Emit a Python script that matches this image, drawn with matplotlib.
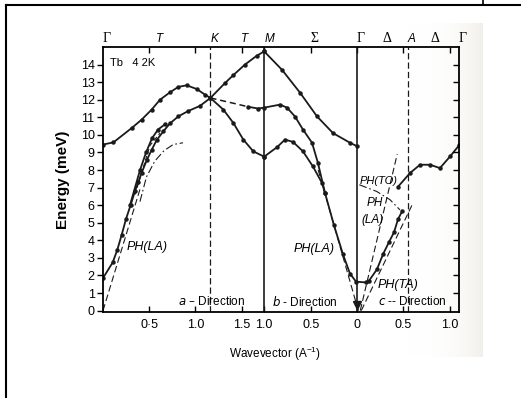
import numpy as np
import matplotlib
matplotlib.use("Agg")
import matplotlib.pyplot as plt
from matplotlib.lines import Line2D

plt.rcParams['font.family'] = ['Liberation Sans', 'DejaVu Sans']

W, H = 521, 398

# path coordinate of the symmetry points (A^-1), Tb hcp: G-K-M | M-G | G-A-G
G0, K, M, G1, A, G2 = 0.0, 1.163, 1.745, 2.752, 3.303, 3.854

# acoustic branch, a-direction G->K then K->M (upper)
ac_q = [0.0, 0.105, 0.155, 0.202, 0.249, 0.300, 0.346, 0.382, 0.419, 0.473, 0.527,
        0.581, 0.653, 0.725, 0.815, 0.920, 1.050, 1.163, 1.321, 1.411, 1.537, 1.664, 1.745]
ac_E = [1.85, 2.74, 3.46, 4.31, 5.21, 6.02, 6.8, 7.3, 7.85, 8.55, 9.15,
        9.7, 10.2, 10.65, 11.05, 11.35, 11.65, 12.1, 12.95, 13.4, 14.0, 14.5, 14.75]
# second branch in the bundle near 7-10.6 meV
bu_q = [0.292, 0.401, 0.466, 0.530, 0.595, 0.671]
bu_E = [6.0, 8.0, 9.0, 9.8, 10.3, 10.6]
bud_q = [0.346, 0.509, 0.617]
bud_E = [6.6, 9.4, 10.1]
# optical branch, G->K->M
op_q = [0.0, 0.112, 0.311, 0.419, 0.527, 0.617, 0.725, 0.815, 0.906, 1.014, 1.104,
        1.163, 1.302, 1.411, 1.519, 1.627, 1.745]
op_E = [9.45, 9.57, 10.39, 10.87, 11.44, 12.0, 12.42, 12.73, 12.82, 12.61, 12.29,
        12.1, 11.44, 10.68, 9.73, 9.06, 8.76]
# middle branch K->M (dashed part, then measured)
mdd_q = [1.163, 1.411, 1.570]
mdd_E = [12.1, 11.8, 11.6]
md_q = [1.570, 1.678, 1.745, 1.916, 1.992, 2.079, 2.165, 2.263, 2.327, 2.403]
md_E = [11.6, 11.5, 11.55, 11.72, 11.55, 11.04, 10.3, 9.55, 8.4, 6.7]
# b-direction lower branch down to Gamma
lo_q = [1.745, 1.884, 1.970, 2.057, 2.165, 2.273, 2.371, 2.403, 2.501, 2.598, 2.674, 2.739, 2.847]
lo_E = [8.76, 9.3, 9.73, 9.6, 9.06, 8.2, 7.26, 6.7, 4.85, 3.2, 2.1, 1.65, 1.6]
# b-direction upper branch M->G
up_q = [1.745, 1.938, 2.133, 2.317, 2.490, 2.674, 2.752]
up_E = [14.75, 13.7, 12.4, 11.05, 10.1, 9.55, 9.35]
# c-direction
ct_q = [2.880, 2.966, 3.031, 3.096, 3.150, 3.194, 3.237]
ct_E = [1.7, 2.35, 3.2, 3.9, 4.45, 5.2, 5.64]
co_q = [3.194, 3.324, 3.432, 3.540, 3.648, 3.757, 3.854]
co_E = [7.05, 7.83, 8.3, 8.3, 8.11, 8.77, 9.4]
# phonon lines
pla_q = [0.0, 0.40]
pla_E = [0.0, 6.9]
plac_q = [0.40, 0.47, 0.56, 0.66, 0.76, 0.866]
plac_E = [6.2, 7.6, 8.5, 9.1, 9.45, 9.55]
plb_q = [2.764, 2.33]
plb_E = [0.0, 8.0]
pto_q = [2.775, 2.963, 3.107, 3.215]
pto_E = [7.16, 6.78, 6.31, 5.73]
plc_q = [2.785, 3.185]
plc_E = [0.0, 8.9]
ptc_q = [2.796, 3.345]
ptc_E = [0.0, 6.0]

xtick_q = [0.5, 1.0, 1.5, 1.745, 2.252, 2.752, 3.252, 3.752]
xtick_lbl = ["0·5", "1.0", "1.5", "1.0", "0.5", "0", "0.5", "1.0"]
top_lbl = ["Γ", "T", "K", "T", "M", "Σ", "Γ", "Δ", "A", "Δ", "Γ"]

fig = plt.figure(figsize=(W / 100, H / 100), dpi=100)

# paper tone of the scan at the right edge
bg = fig.add_axes([380 / W, 1 - 357 / H, 103 / W, 334 / H], zorder=0)
grad = np.zeros((1, 200, 4))
grad[..., 0:3] = [0.91, 0.90, 0.86]
grad[..., 3] = np.linspace(0, 1, 200) ** 4 * 0.6
bg.imshow(grad, aspect='auto', extent=[0, 1, 0, 1])
bg.axis('off')

ax = fig.add_axes([103 / W, 1 - 312 / H, 356 / W, 265 / H], zorder=1)
ax.patch.set_alpha(0)
ax.set_xlim(G0, G2)
ax.set_ylim(-0.08, 15.0)
ink = '#1a1a1a'

# vertical symmetry lines
ax.axvline(K, color=ink, lw=0.9, dashes=(5, 2.5))
ax.axvline(A, color=ink, lw=0.9, dashes=(5, 2.5))
ax.axvline(M, color=ink, lw=1.2)
ax.axvline(G1, color=ink, lw=1.2)
ax.plot([G1], [0.3], marker='v', ms=6, color=ink, clip_on=False)

mk = dict(color=ink, lw=1.3, marker='o', ms=2.2)
for q, e in [(ac_q, ac_E), (bu_q, bu_E), (op_q, op_E), (md_q, md_E),
             (lo_q, lo_E), (up_q, up_E), (ct_q, ct_E), (co_q, co_E)]:
    ax.plot(q, e, **mk)
ax.plot(mdd_q, mdd_E, color=ink, lw=1.1, dashes=(4, 2.5))
ax.plot(bud_q, bud_E, color=ink, lw=0.8, dashes=(4, 2.5))

# phonon dispersion
dl = dict(color=ink, lw=0.8)
ax.plot(pla_q, pla_E, dashes=(6, 3), **dl)
ax.plot(plac_q, plac_E, dashes=(7, 2.5, 1.5, 2.5), **dl)
ax.plot(plb_q, plb_E, dashes=(6, 3), **dl)
ax.plot(pto_q, pto_E, dashes=(7, 2.5, 1.5, 2.5), **dl)
ax.plot(plc_q, plc_E, dashes=(6, 3), **dl)
ax.plot(ptc_q, ptc_E, dashes=(6, 3), **dl)

# axes and ticks
for s in ax.spines.values():
    s.set_linewidth(1.3)
ax.set_yticks(range(0, 15))
ax.tick_params(axis='y', direction='out', length=4, width=1, labelsize=9, pad=2, right=False)
ax.set_xticks(xtick_q)
ax.set_xticklabels(xtick_lbl)
ax.tick_params(axis='x', direction='in', length=4, width=1, labelsize=9, pad=5, top=True)
ax2 = ax.twinx()
ax2.set_ylim(ax.get_ylim())
ax2.set_yticks(range(1, 15))
ax2.tick_params(direction='in', length=4, width=1, labelright=False)
for s in ax2.spines.values():
    s.set_visible(False)

ax.set_ylabel('Energy (meV)', fontsize=11, fontweight='bold')
ax.yaxis.set_label_coords(-0.093, 0.5)
ax.set_xlabel('Wavevector (A$^{\\mathregular{-1}}$)', fontsize=8.5)
ax.xaxis.set_label_coords(0.483, -0.125)

# symmetry labels on top
tt = ax.get_xaxis_transform()
top_x = [0.043, 0.617, 1.212, 1.537, 1.808, 2.295, 2.793, 3.075, 3.345, 3.594, 3.897]
for lbl, x in zip(top_lbl, top_x):
    if lbl in ("T", "K", "M", "A"):
        ax.text(x, 1.032, lbl, transform=tt, ha='center', va='center', fontsize=8.5, style='italic')
    else:
        ax.text(x, 1.032, lbl, transform=tt, ha='center', va='center', fontsize=10,
                family=['Liberation Serif', 'DejaVu Serif'])

ax.text(0.076, 14.1, 'Tb   4 2K', fontsize=8, va='center')
it = dict(fontsize=9, style='italic', ha='center', va='center')
ax.text(0.476, 3.63, 'PH(LA)', **it)
ax.text(2.284, 3.5, 'PH(LA)', **it)
ax.text(3.194, 1.46, 'PH(TA)', **it)
ax.text(2.945, 6.12, 'PH', fontsize=8.5, style='italic', ha='center', va='center')
ax.text(2.915, 5.17, '(LA)', fontsize=8.5, style='italic', ha='center', va='center')
ax.text(2.98, 7.35, 'PH(TO)', fontsize=8, style='italic', ha='center', va='center')
ax.text(0.812, 0.5, '$\\mathit{a}$ – Direction', fontsize=8.5, va='center')
ax.text(1.83, 0.5, '$\\mathit{b}$ - Direction', fontsize=8.5, va='center')
ax.text(2.977, 0.5, '$\\mathit{c}$ -- Direction', fontsize=8.5, va='center')

# page frame of the scan
fig.add_artist(Line2D([6 / W, 1], [1 - 5 / H, 1 - 5 / H], transform=fig.transFigure, color='k', lw=1.5))
fig.add_artist(Line2D([6 / W, 6 / W], [0, 1 - 5 / H], transform=fig.transFigure, color='k', lw=1.5))
fig.add_artist(Line2D([483 / W, 483 / W], [1, 1 - 5 / H], transform=fig.transFigure, color='k', lw=1.2))

fig.savefig('out.png', dpi=100)
